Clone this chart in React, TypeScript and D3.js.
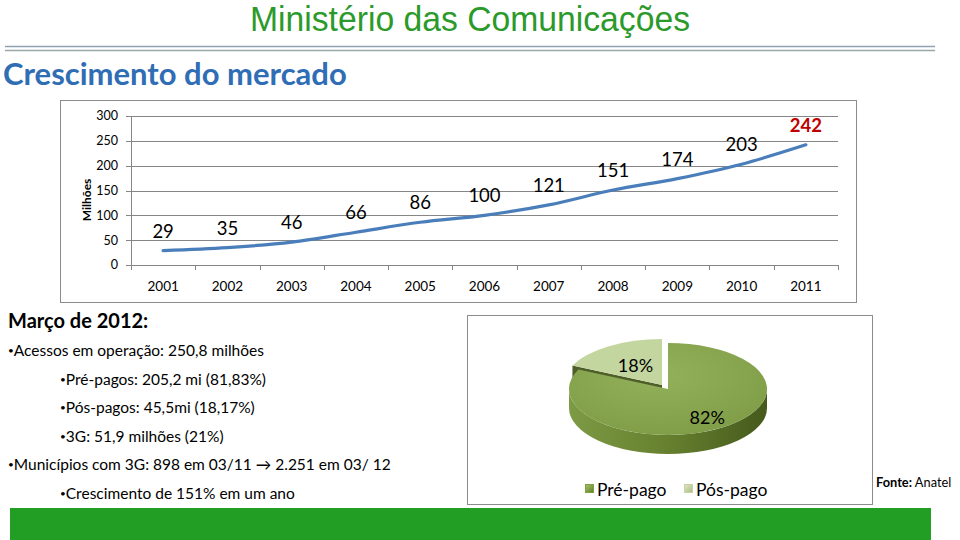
import React from "react";
import * as d3 from "d3";

// line chart data (milhões de acessos)
const years = ["2001", "2002", "2003", "2004", "2005", "2006", "2007", "2008", "2009", "2010", "2011"];
const acessos = [29, 35, 46, 66, 86, 100, 121, 151, 174, 203, 242];
const yTicks = [0, 50, 100, 150, 200, 250, 300];

// pie data
const pieLabels = ["Pré-pago", "Pós-pago"];
const pieValues = [82, 18];
const pieTop = ["#8cab52", "#c4d6a0"];
const pieSwatch = ["#7e9f3f", "#c6d4a4"];

// text block
const infoLines = [
  { text: "Acessos em operação: 250,8 milhões", level: 0 },
  { text: "Pré-pagos: 205,2 mi (81,83%)", level: 1 },
  { text: "Pós-pagos: 45,5mi (18,17%)", level: 1 },
  { text: "3G: 51,9 milhões (21%)", level: 1 },
  { text: "Municípios com 3G: 898 em 03/11 → 2.251 em 03/ 12", level: 0 },
  { text: "Crescimento de 151% em um ano", level: 1 },
];

const FONT = "Lato, 'Open Sans', sans-serif";

const plot = { left: 131, right: 838, top: 116, bottom: 265 };

const x = d3.scaleBand<string>().domain(years).range([plot.left, plot.right]).padding(0);
const y = d3.scaleLinear().domain([0, 300]).range([plot.bottom, plot.top]);

const line = d3
  .line<number>()
  .x((d, i) => (x(years[i]) as number) + x.bandwidth() / 2)
  .y((d) => y(d))
  .curve(d3.curveMonotoneX);

// 3d pie geometry
const pc = { cx: 668, cy: 389, rx: 99, ry: 46, depth: 19 };
const explode = { dx: -6, dy: -4 };
const arcs = d3.pie<number>().sort(null)(pieValues);

const pt = (a: number, ox = 0, oy = 0) => [pc.cx + ox + pc.rx * Math.sin(a), pc.cy + oy - pc.ry * Math.cos(a)];

function topPath(a0: number, a1: number, ox: number, oy: number) {
  const [x0, y0] = pt(a0, ox, oy);
  const [x1, y1] = pt(a1, ox, oy);
  const large = a1 - a0 > Math.PI ? 1 : 0;
  return `M${pc.cx + ox},${pc.cy + oy}L${x0},${y0}A${pc.rx},${pc.ry} 0 ${large} 1 ${x1},${y1}Z`;
}

function sidePath(a0: number, a1: number, ox: number, oy: number) {
  // outer rim visible between 90° and 270°
  const s = Math.max(a0, Math.PI / 2);
  const e = Math.min(a1, (3 * Math.PI) / 2);
  if (e <= s) return "";
  const [x0, y0] = pt(s, ox, oy);
  const [x1, y1] = pt(e, ox, oy);
  const d = pc.depth;
  return `M${x0},${y0}A${pc.rx},${pc.ry} 0 0 1 ${x1},${y1}L${x1},${y1 + d}A${pc.rx},${pc.ry} 0 0 0 ${x0},${y0 + d}Z`;
}

function radialFace(a: number, ox: number, oy: number) {
  const [x0, y0] = pt(a, ox, oy);
  const cx = pc.cx + ox;
  const cy = pc.cy + oy;
  const d = pc.depth;
  return `M${cx},${cy}L${x0},${y0}L${x0},${y0 + d}L${cx},${cy + d}Z`;
}

export default function App() {
  const small = arcs[1];
  const big = arcs[0];
  const labelPos = (a: any, k: number, ox: number, oy: number) => {
    const m = (a.startAngle + a.endAngle) / 2;
    return [pc.cx + ox + pc.rx * k * Math.sin(m), pc.cy + oy - pc.ry * k * Math.cos(m)];
  };
  const [l0x, l0y] = labelPos(big, 0.74, 0, 0);
  const [l1x, l1y] = labelPos(small, 0.5, explode.dx, explode.dy);

  return (
    <svg
      width={960}
      height={540}
      style={{ position: "absolute", left: 0, top: 0, background: "#fff" }}
      fontFamily={FONT}
    >
      <defs>
        <linearGradient id="sideGrad" x1="0" x2="1" y1="0" y2="0">
          <stop offset="0" stopColor="#7d9a44" />
          <stop offset="0.5" stopColor="#66802f" />
          <stop offset="1" stopColor="#45591c" />
        </linearGradient>
        <radialGradient id="topGrad" cx="0.45" cy="0.35" r="0.7">
          <stop offset="0" stopColor="#93b05a" />
          <stop offset="1" stopColor="#7f9c47" />
        </radialGradient>
        <linearGradient id="swGreen" x1="0" x2="1" y1="0" y2="1">
          <stop offset="0" stopColor="#a6c46a" />
          <stop offset="1" stopColor="#5f7d26" />
        </linearGradient>
        <linearGradient id="swLight" x1="0" x2="1" y1="0" y2="1">
          <stop offset="0" stopColor="#dfe8c8" />
          <stop offset="1" stopColor="#a9bb82" />
        </linearGradient>
      </defs>

      {/* header */}
      <text x={470} y={31} textAnchor="middle" fontFamily="'Liberation Sans', Arial, sans-serif" fontSize={35} fill="#2b9a2b" textLength={440} lengthAdjust="spacingAndGlyphs">
        Ministério das Comunicações
      </text>
      <line x1={5} x2={935} y1={46.5} y2={46.5} stroke="#8ea2b6" strokeWidth={1.5} />
      <line x1={5} x2={935} y1={50.5} y2={50.5} stroke="#9aa6a8" strokeWidth={1.5} />
      <text x={3} y={85} fontSize={31} fontWeight="bold" fill="#2f6db5">
        Crescimento do mercado
      </text>

      {/* line chart */}
      <rect x={60.5} y={100.5} width={796} height={202} fill="#fff" stroke="#8c8c8c" />
      {yTicks.map((t) => (
        <g key={t}>
          <line x1={plot.left} x2={plot.right} y1={Math.round(y(t)) + 0.5} y2={Math.round(y(t)) + 0.5} stroke="#868686" />
          <line x1={plot.left - 5} x2={plot.left} y1={Math.round(y(t)) + 0.5} y2={Math.round(y(t)) + 0.5} stroke="#868686" />
          <text x={118} y={y(t)} dy="0.35em" textAnchor="end" fontSize={12.5} fill="#000">
            {t}
          </text>
        </g>
      ))}
      <line x1={plot.left + 0.5} x2={plot.left + 0.5} y1={plot.top} y2={plot.bottom} stroke="#868686" />
      {years.map((yr, i) => (
        <g key={yr}>
          <line x1={Math.round(x(yr) as number) + 0.5} x2={Math.round(x(yr) as number) + 0.5} y1={plot.bottom} y2={plot.bottom + 5} stroke="#868686" />
          <text x={(x(yr) as number) + x.bandwidth() / 2} y={291} textAnchor="middle" fontSize={13.5}>
            {yr}
          </text>
        </g>
      ))}
      <line x1={plot.right + 0.5} x2={plot.right + 0.5} y1={plot.bottom} y2={plot.bottom + 5} stroke="#868686" />
      <text transform="translate(91,200) rotate(-90)" textAnchor="middle" fontSize={12} fontWeight="bold">
        Milhões
      </text>
      <path d={line(acessos) || ""} fill="none" stroke="#4a7ebb" strokeWidth={3.2} strokeLinecap="round" />
      {acessos.map((v, i) => {
        const last = i === acessos.length - 1;
        return (
          <text
            key={i}
            x={(x(years[i]) as number) + x.bandwidth() / 2}
            y={y(v) - 13}
            textAnchor="middle"
            fontSize={18.5}
            fontWeight={last ? "bold" : "normal"}
            fill={last ? "#c00000" : "#000"}
          >
            {v}
          </text>
        );
      })}

      {/* text block */}
      <text x={8} y={328} fontSize={20} fontWeight="bold">
        Março de 2012:
      </text>
      {infoLines.map((l, i) => (
        <text key={i} x={l.level ? 60 : 8} y={356 + i * 28.6} fontSize={15.5}>
          <tspan fontSize={10} dy={-2}>•</tspan>
          <tspan dy={2}>{l.text}</tspan>
        </text>
      ))}

      {/* pie chart */}
      <rect x={467.5} y={315.5} width={405} height={189} fill="#fff" stroke="#8c8c8c" />
      <path d={radialFace(small.startAngle, explode.dx, explode.dy)} fill="#4f5f2a" />
      <path d={topPath(small.startAngle, small.endAngle, explode.dx, explode.dy)} fill={pieTop[1]} />
      <path d={sidePath(big.startAngle, big.endAngle, 0, 0)} fill="url(#sideGrad)" />
      <path d={topPath(big.startAngle, big.endAngle, 0, 0)} fill="url(#topGrad)" />
      <text x={l0x} y={l0y} dy="0.35em" textAnchor="middle" fontSize={18}>
        {Math.round(big.value)}%
      </text>
      <text x={l1x} y={l1y} dy="0.35em" textAnchor="middle" fontSize={18}>
        {Math.round(small.value)}%
      </text>
      {pieLabels.map((lab, i) => {
        const lx = i === 0 ? 585 : 684;
        return (
          <g key={lab}>
            <rect x={lx + 0.5} y={484.5} width={8} height={8} fill={i === 0 ? "url(#swGreen)" : "url(#swLight)"} stroke={pieSwatch[i]} />
            <text x={lx + 12} y={496} fontSize={17.5}>
              {lab}
            </text>
          </g>
        );
      })}
      <text x={876} y={487} fontSize={12.8}>
        <tspan fontWeight="bold">Fonte:</tspan> Anatel
      </text>

      {/* footer bar */}
      <rect x={10} y={508} width={921} height={32} fill="#229e24" />
    </svg>
  );
}
